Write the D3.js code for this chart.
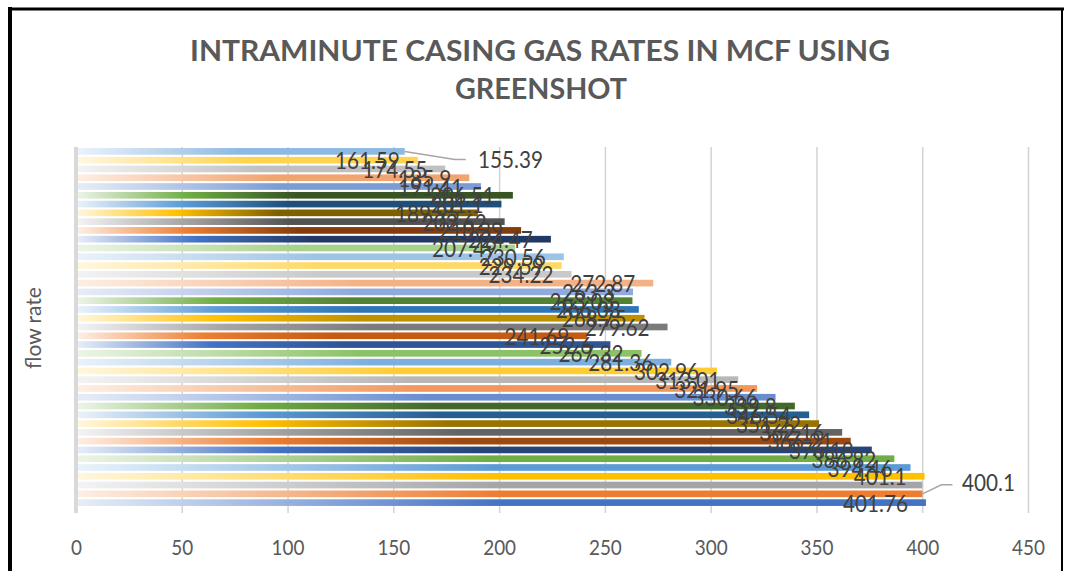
<!DOCTYPE html>
<html>
<head>
<meta charset="utf-8">
<script src="https://cdn.jsdelivr.net/npm/d3@7"></script>
<style>
  html, body { margin: 0; padding: 0; background: #fff; }
  svg { display: block; }
</style>
</head>
<body>
<svg id="chart" width="1068" height="571"></svg>
<script>
// данные (первая категория снизу, как в Excel)
const categories = d3.range(1, 42).map(String);
const values = [
  401.76, 400.1, 400.0, 401.1, 394.46, 386.82,
  376.18, 366.21, 362.16, 351.22, 346.54, 339.8,
  330.66, 321.95, 313.01, 302.96, 281.36, 267.32,
  252.6, 241.69, 279.62, 268.75, 266.03, 263.03,
  263.3, 272.87, 234.22, 229.59, 230.56, 207.49,
  224.47, 210.39, 202.62, 189.95, 201.1, 206.51,
  191.41, 185.9, 174.55, 161.59, 155.39
];
const labels = [
  "401.76", "400.1", "", "401.1", "394.46", "386.82",
  "376.18", "366.21", "362.16", "351.22", "346.54", "339.8",
  "330.66", "321.95", "313.01", "302.96", "281.36", "267.32",
  "252.6", "241.69", "279.62", "268.75", "266.03", "263.03",
  "263.3", "272.87", "234.22", "229.59", "230.56", "207.49",
  "224.47", "210.39", "202.62", "189.95", "201.1", "206.51",
  "191.41", "185.9", "174.55", "161.59", "155.39"
];
const xTicks = [0, 50, 100, 150, 200, 250, 300, 350, 400, 450];
const accents = ["#4472C4", "#ED7D31", "#A5A5A5", "#FFC000", "#5B9BD5", "#70AD47"];
const barColors = [
  "#4472C4", "#ED7D31", "#A5A5A5", "#FFC000", "#5B9BD5", "#70AD47",
  "#264478", "#9E480E", "#636363", "#997300", "#255E91", "#43682B",
  "#698ED0", "#F1975A", "#B7B7B7", "#FFCD33", "#7CAFDD", "#8CC168",
  "#2F5597", "#C55A11", "#7B7B7B", "#BF9000", "#2E75B6", "#548235",
  "#8FAADC", "#F4B183", "#C9C9C9", "#FFD966", "#9DC3E6", "#A9D18E",
  "#203864", "#843C0C", "#525252", "#7F6000", "#1F4E79", "#375623",
  "#7C9CD6", "#F2A470", "#C0C0C0", "#FFD34D", "#8DB9E2"
];

const svg = d3.select("#chart");
const area = { left: 76, right: 1028, top: 147, bottom: 507 };

const data = categories.map((c, i) => ({
  cat: c, value: values[i], label: labels[i],
  color: barColors[i], accent: accents[i % 6]
}));

const scX = d3.scaleLinear().domain([0, 450]).range([area.left, area.right]);
const scY = d3.scaleBand()
  .domain(categories.slice().reverse())
  .range([area.top, area.bottom])
  .paddingInner(0.24).paddingOuter(0.12);

// сжать текст по ширине (шрифт шире, чем Calibri)
function squeeze(sel, k) {
  sel.each(function () {
    const w = this.getComputedTextLength();
    d3.select(this).attr("textLength", w * k).attr("lengthAdjust", "spacingAndGlyphs");
  });
}

// рамка
svg.append("line").attr("x1", 10).attr("x2", 10).attr("y1", 7).attr("y2", 571)
  .attr("stroke", "#000").attr("stroke-width", 4);
svg.append("line").attr("x1", 8).attr("x2", 1064).attr("y1", 9).attr("y2", 9)
  .attr("stroke", "#000").attr("stroke-width", 3);
svg.append("line").attr("x1", 1062).attr("x2", 1062).attr("y1", 8).attr("y2", 571)
  .attr("stroke", "#000").attr("stroke-width", 2);

// заголовок
const title = svg.append("g")
  .attr("font-family", "Lato, sans-serif")
  .attr("font-weight", "bold")
  .attr("font-size", 29)
  .attr("fill", "#595959")
  .attr("text-anchor", "middle");
title.append("text").attr("x", 540).attr("y", 61)
  .attr("textLength", 700).attr("lengthAdjust", "spacingAndGlyphs")
  .text("INTRAMINUTE CASING GAS RATES IN MCF USING");
title.append("text").attr("x", 541).attr("y", 99)
  .attr("textLength", 172).attr("lengthAdjust", "spacingAndGlyphs")
  .text("GREENSHOT");

// подпись оси Y
svg.append("text")
  .attr("transform", "translate(41,328) rotate(-90)")
  .attr("text-anchor", "middle")
  .attr("font-family", "Lato, sans-serif")
  .attr("font-size", 21)
  .attr("fill", "#595959")
  .text("flow rate");

// сетка
svg.append("g")
  .attr("transform", `translate(0, ${area.bottom + 6})`)
  .call(d3.axisBottom(scX).tickValues(xTicks).tickSize(-(area.bottom + 6 - area.top)).tickFormat(""))
  .call(g => g.select(".domain").remove())
  .selectAll("line")
  .attr("stroke", "#D3D3D3")
  .attr("stroke-width", 1.5);

svg.append("line")
  .attr("x1", scX(0)).attr("x2", scX(0))
  .attr("y1", area.top).attr("y2", area.bottom + 6)
  .attr("stroke", "#D9D9D9").attr("stroke-width", 4);

// ось X
const axX = svg.append("g")
  .attr("transform", `translate(0, ${area.bottom})`)
  .call(d3.axisBottom(scX).tickValues(xTicks).tickSize(0));
axX.select(".domain").remove();
axX.selectAll("text")
  .attr("y", 41).attr("dy", "0.35em")
  .attr("font-family", "Lato, sans-serif")
  .attr("font-size", 21)
  .attr("fill", "#595959")
  .call(squeeze, 0.9);

// градиенты
function tint(c, t) {
  const rgb = d3.rgb(c);
  return d3.rgb(rgb.r + (255 - rgb.r) * t, rgb.g + (255 - rgb.g) * t, rgb.b + (255 - rgb.b) * t).formatHex();
}
function lum(c) { return d3.hsl(c).l; }

const defs = svg.append("defs");
data.forEach((d, i) => {
  const light = tint(d.accent, 0.87);
  const mid = lum(d.color) < lum(d.accent) - 0.05 ? d.accent : d3.interpolateRgb(light, d.color)(0.5);
  const grad = defs.append("linearGradient").attr("id", "g" + i)
    .attr("x1", 0).attr("x2", 1).attr("y1", 0).attr("y2", 0);
  grad.append("stop").attr("offset", "0%").attr("stop-color", light);
  grad.append("stop").attr("offset", "25%").attr("stop-color", mid);
  grad.append("stop").attr("offset", "50%").attr("stop-color", d.color);
  grad.append("stop").attr("offset", "100%").attr("stop-color", d.color);
});

// столбцы
svg.selectAll(".bar")
  .data(data)
  .enter()
  .append("rect")
  .attr("class", "bar")
  .attr("x", scX(0) + 2)
  .attr("y", d => scY(d.cat))
  .attr("width", d => scX(d.value) - scX(0) - 2)
  .attr("height", scY.bandwidth())
  .style("fill", (d, i) => `url(#g${i})`);

// подписи данных
const labelGroup = svg.append("g")
  .attr("font-family", "Lato, sans-serif")
  .attr("font-size", 23)
  .attr("fill", "#404040");

const special = {
  "2": { x: 962, y: 483, lead: [[0, 0], [19, -9], [30, -9]] },
  "41": { x: 478, y: 160, lead: [[0, 0], [50, 8], [61, 8]] }
};

labelGroup.selectAll("text")
  .data(data.filter(d => d.label !== ""))
  .enter()
  .append("text")
  .attr("x", d => special[d.cat] ? special[d.cat].x : scX(d.value) - 18)
  .attr("y", d => special[d.cat] ? special[d.cat].y : scY(d.cat) + scY.bandwidth() / 2 + 1)
  .attr("dy", "0.35em")
  .attr("text-anchor", d => special[d.cat] ? "start" : "end")
  .text(d => d.label)
  .call(squeeze, 0.9);

// выноски
const lineGen = d3.line();
data.filter(d => special[d.cat]).forEach(d => {
  const x0 = scX(d.value), y0 = scY(d.cat) + scY.bandwidth() / 2;
  svg.append("path")
    .attr("d", lineGen(special[d.cat].lead.map(p => [x0 + p[0], y0 + p[1]])))
    .attr("fill", "none")
    .attr("stroke", "#A6A6A6")
    .attr("stroke-width", 1.5);
});
</script>
</body>
</html>
